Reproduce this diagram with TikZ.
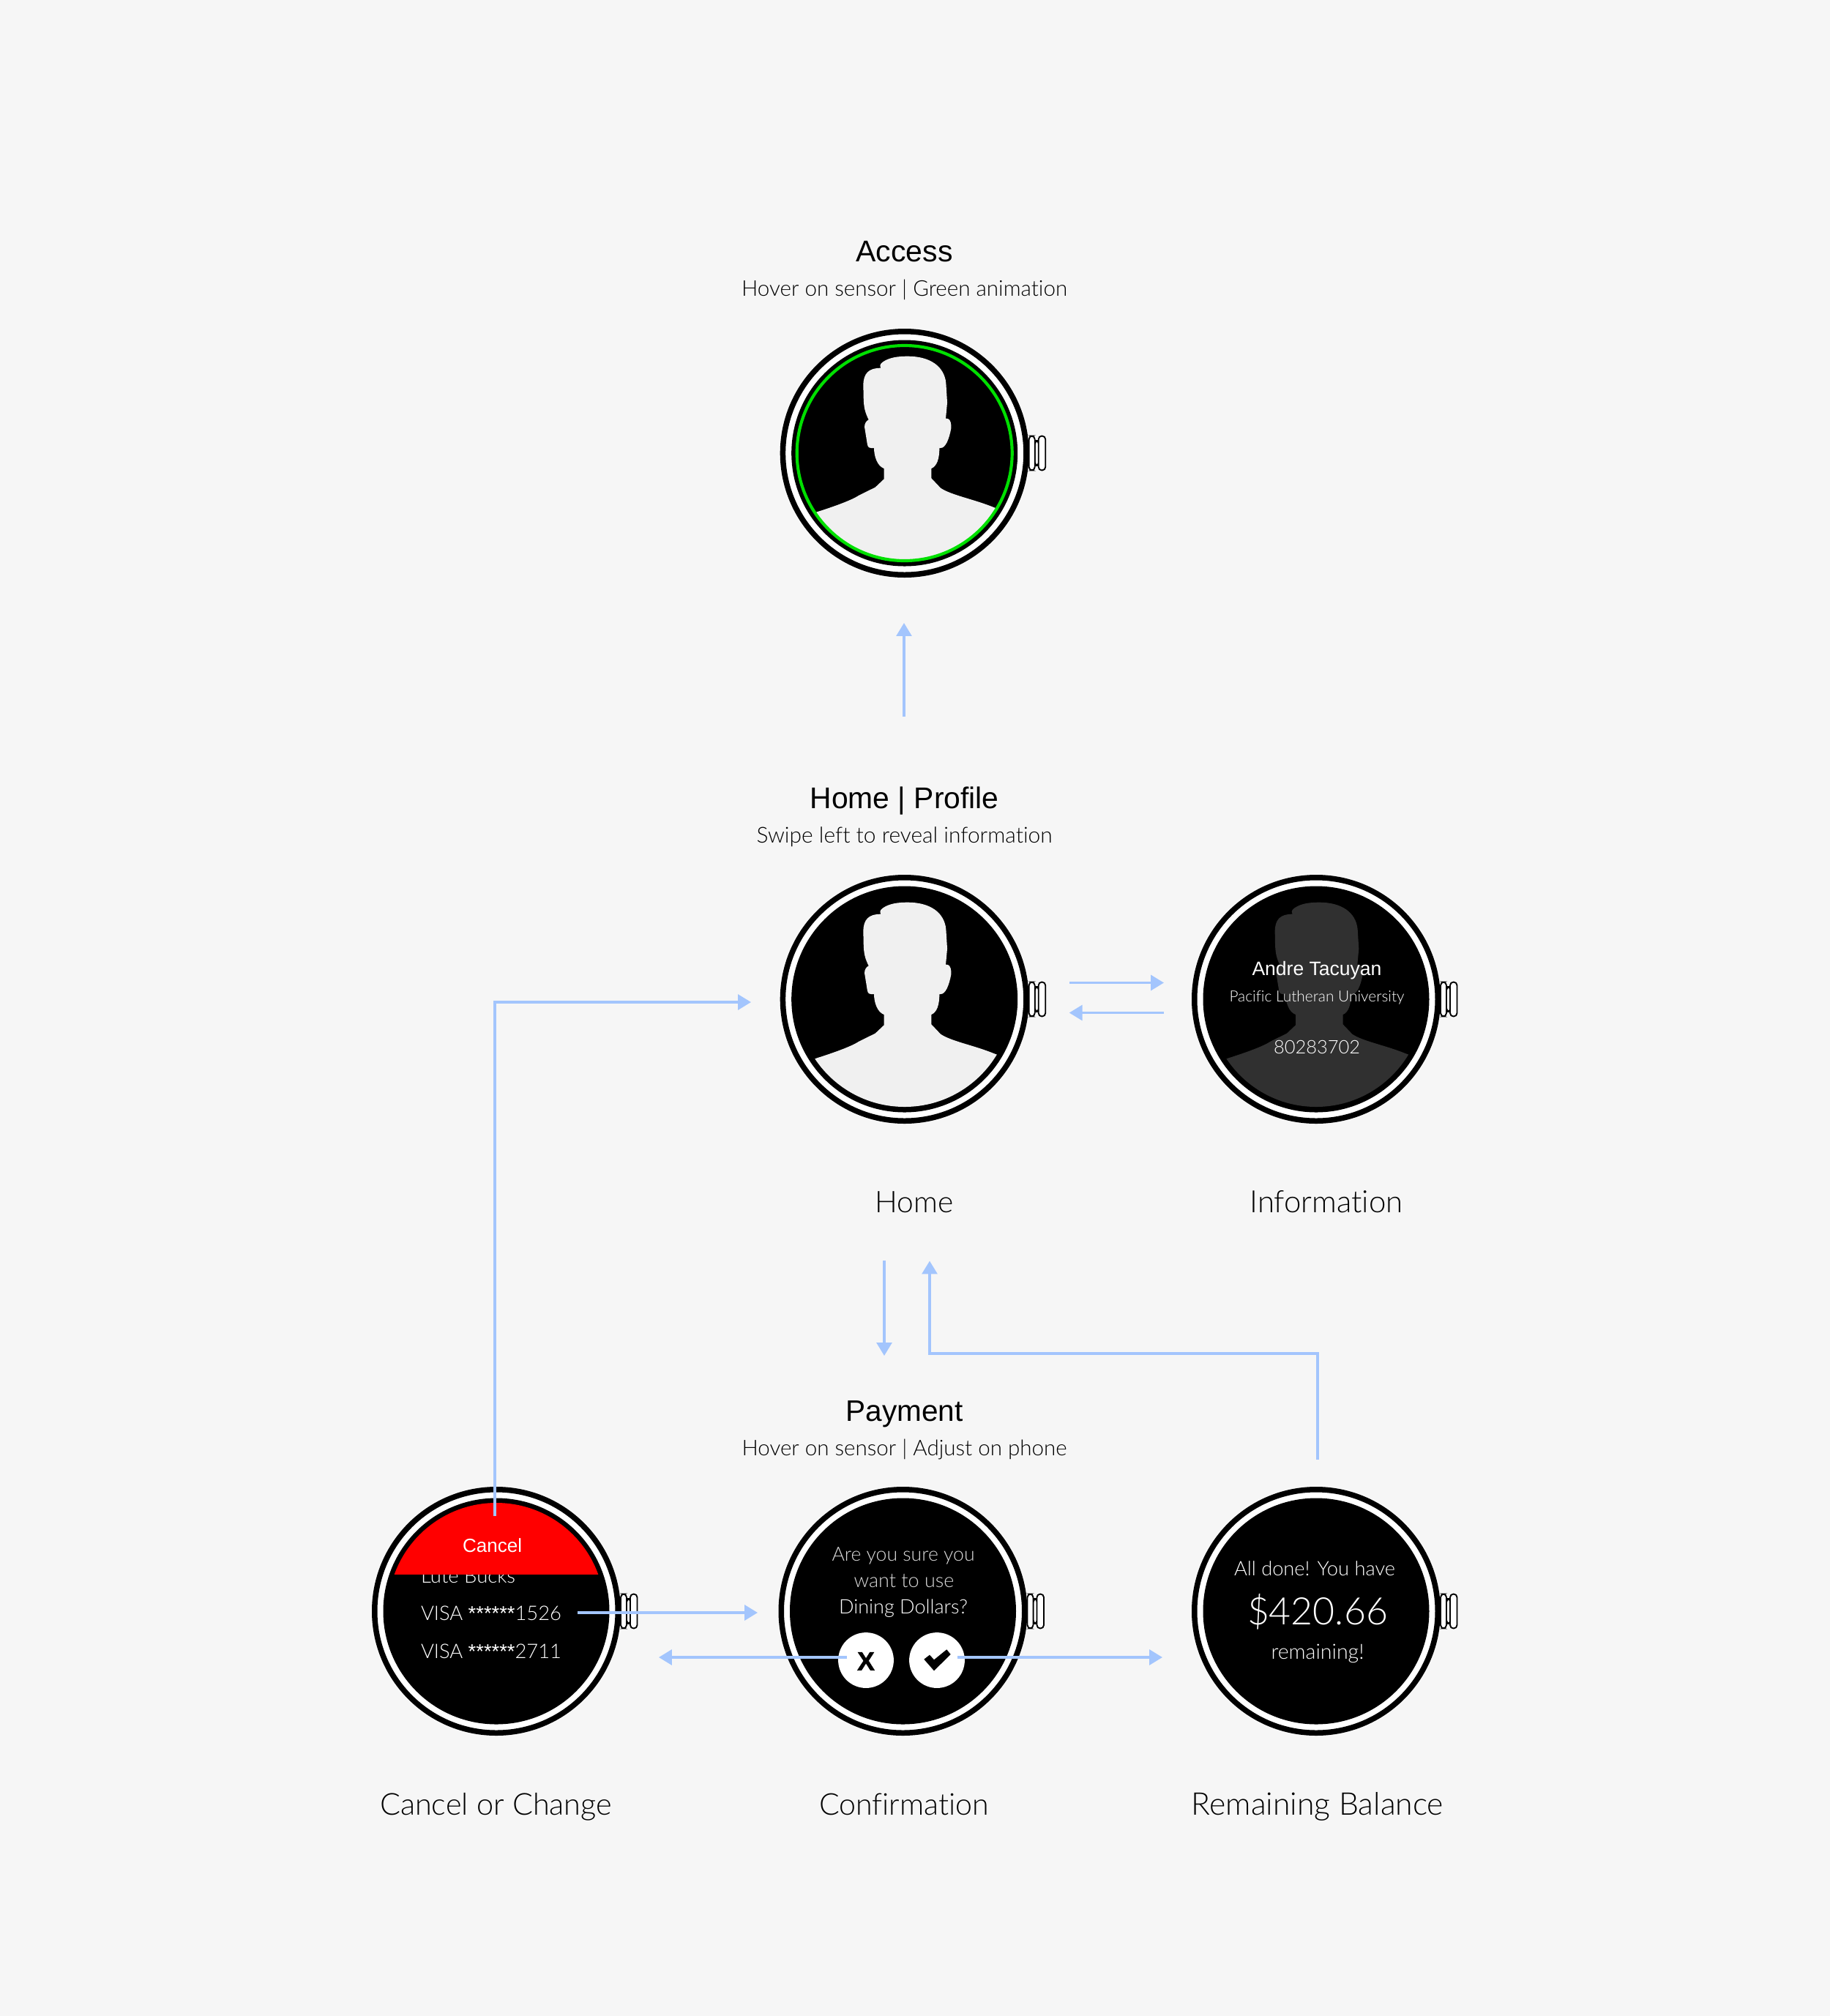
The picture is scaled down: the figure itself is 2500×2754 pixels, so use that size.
\documentclass[tikz,border=0pt]{standalone}
\usepackage{fontspec}
\usepackage{graphicx}
\usetikzlibrary{arrows.meta}
\setmainfont{Liberation Sans}
\newfontfamily\lightf[Ligatures=NoCommon]{Lato Light}
\newfontfamily\heavyf[UprightFont=* Bold,FakeBold=1.5]{Liberation Sans}
\definecolor{bgc}{HTML}{F6F6F6}
\definecolor{arrowc}{HTML}{A3C5FD}
\definecolor{greenr}{HTML}{00E000}
\definecolor{silhlight}{HTML}{F0F0F0}
\definecolor{silhdark}{HTML}{303030}
\definecolor{redc}{HTML}{FF0000}
% fit text to a width given in reference pixels
\newcommand\tw[2]{\resizebox{0.24\dimexpr #1pt\relax}{!}{#2}}
\newcommand\stars{{\normalfont ******}}
\tikzset{
  watchbody/.style={circle,inner sep=0pt,minimum size=79.8pt,draw=black,fill=white,line width=1.8pt},
  crownpart/.style={draw=black,fill=white,line width=0.45pt,rounded corners=1.1pt},
  conn/.style={draw=arrowc,line width=0.84pt,-{Triangle[length=4.3pt,width=5pt]}},
  connthin/.style={draw=arrowc,line width=0.75pt,-{Triangle[length=4.3pt,width=5pt]}},
  txt/.style={anchor=base,inner sep=0pt,outer sep=0pt,font=\fontsize{9.6}{11}\selectfont},
  blacktxt/.style={txt,text=black},
  lighttxt/.style={txt,text=black,font=\fontsize{9.6}{11}\lightf},
  screentxt/.style={txt,text=white,font=\fontsize{6.5}{8}\lightf},
  screenreg/.style={txt,text=white,font=\fontsize{6.5}{8}\selectfont},
}
\newcommand\watch[3]{%
  \node[watchbody] (#1) at (#2,#3) {};
  \begin{scope}[shift={(#2,#3)}]
    \fill[black] (0,0) circle [radius=154.5];
    \draw[crownpart] (178,-17) rectangle (183.5,17);
    \draw[crownpart] (170,-23.5) rectangle (178,23.5);
    \draw[crownpart] (183,-23.5) rectangle (192.5,23.5);
  \end{scope}
}
\newcommand\silh[3]{%
  \begin{scope}[shift={(#1,#2)}]
    \clip (0,0) circle [radius=147];
    \begin{scope}[x=0.08pt,y=-0.08pt,shift={(-617,-597)}]
    \fill[#3] (200,860) -- (258,838) .. controls (330,815) and (400,790) .. (430,770)
      -- (497,737) -- (533,703) -- (533,660)
      .. controls (505,650) and (492,610) .. (492,576) -- (480,576)
      .. controls (465,576) and (465,565) .. (462,545) -- (453,490)
      .. controls (453,475) and (460,465) .. (470,460)
      .. controls (455,430) and (450,410) .. (449,370) -- (448,320)
      .. controls (448,270) and (470,248) .. (520,248)
      .. controls (512,235) and (522,228) .. (530,222)
      .. controls (555,205) and (590,200) .. (630,200)
      .. controls (720,200) and (780,240) .. (787,310) -- (792,390) -- (786,455) -- (795,456)
      .. controls (805,458) and (810,480) .. (808,495)
      .. controls (800,540) and (785,576) .. (765,576) -- (760,576)
      .. controls (760,620) and (750,650) .. (727,660) -- (727,700) -- (765,740)
      .. controls (810,770) and (900,785) .. (985,820) -- (1040,840) -- (1040,1100) -- (200,1100) -- cycle;
    \end{scope}
  \end{scope}
}
\begin{document}
\begin{tikzpicture}[x=0.24pt,y=-0.24pt]
\useasboundingbox (0,0) rectangle (2500,2754);
\fill[bgc] (0,0) rectangle (2500,2754);

% Watches
\watch{wAccess}{1235.7}{619}
\silh{1235.7}{619}{silhlight}
\draw[greenr,line width=1pt] (1235.7,619) circle [radius=147];

\watch{wHome}{1235.7}{1365}
\silh{1235.7}{1365}{silhlight}

\watch{wInfo}{1798}{1365}
\silh{1798}{1365}{silhdark}

\watch{wCancel}{678}{2201}
\node[screentxt,anchor=base west] (lute) at (575,2162) {\tw{129}{Lute Bucks}};
\begin{scope}
  \clip (678,2201) circle [radius=148];
  \fill[redc] (500,2040) rectangle (860,2150.7);
\end{scope}
\node[screenreg] (cancel) at (672.7,2120) {\tw{81}{Cancel}};
\node[screentxt,anchor=base west] (visaA) at (575,2213.5) {\tw{192}{VISA \stars1526}};
\node[screentxt,anchor=base west] (visaB) at (575,2265) {\tw{192}{VISA \stars2711}};

\watch{wConfirm}{1233.5}{2201}
\node[screentxt,text=white!85!black] (sure) at (1234,2132) {\tw{195}{Are you sure you}};
\node[screentxt,text=white!85!black] (want) at (1235,2168) {\tw{137}{want to use}};
\node[screentxt] (dining) at (1234,2204) {\tw{176}{Dining Dollars?}};
\node[circle,fill=white,inner sep=0pt,minimum size=18.2pt] (btnX) at (1183,2268) {};
\node[circle,fill=white,inner sep=0pt,minimum size=18.2pt] (btnC) at (1280,2268) {};
\node[txt,text=black,font=\fontsize{8.6}{10}\heavyf] (xglyph) at (1183,2281.7) {X};
\fill[black] (1262.3,2266.7) -- (1270,2260.7) -- (1276,2267.3) -- (1293.3,2253.3) -- (1298.7,2260) -- (1276,2282.3) -- cycle;

\watch{wBalance}{1798}{2201}
\node[screentxt] (done) at (1796,2152) {\tw{220}{All done! You have}};
\node[screentxt,font=\fontsize{12.7}{15}\lightf] (amount) at (1800,2219) {\tw{192}{\$420.66}};
\node[screentxt] (remain) at (1800,2266) {\tw{127}{remaining!}};

% Info screen text
\node[screenreg] (name) at (1799,1332.5) {\tw{177}{Andre Tacuyan}};
\node[screentxt] (uni) at (1799,1368) {\tw{239}{Pacific Lutheran University}};
\node[screentxt] (idn) at (1799,1439) {\tw{118}{80283702}};

% Titles
\node[blacktxt] (tAccess) at (1235.6,357) {\tw{132}{Access}};
\node[lighttxt] (sAccess) at (1235.6,404) {\tw{445}{Hover on sensor | Green animation}};
\node[blacktxt] (tHome) at (1235.6,1104) {\tw{258}{Home | Profile}};
\node[lighttxt] (sHome) at (1235.6,1151) {\tw{404}{Swipe left to reveal information}};
\node[blacktxt] (tPay) at (1235.6,1941) {\tw{160}{Payment}};
\node[lighttxt] (sPay) at (1235.6,1988.5) {\tw{444}{Hover on sensor | Adjust on phone}};

% Labels
\node[lighttxt] (lHome) at (1249,1656) {\tw{107}{Home}};
\node[lighttxt] (lInfo) at (1812,1656) {\tw{209}{Information}};
\node[lighttxt] (lCancel) at (677.6,2479) {\tw{317}{Cancel or Change}};
\node[lighttxt] (lConf) at (1235,2479) {\tw{232}{Confirmation}};
\node[lighttxt] (lRem) at (1800,2479) {\tw{344}{Remaining Balance}};

% Connector ends
\coordinate (a1) at (1235,979);  \coordinate (a2) at (1235,851);
\coordinate (b1) at (1460.7,1342.5); \coordinate (b2) at (1590,1342.5);
\coordinate (c1) at (1590,1383.5); \coordinate (c2) at (1460.7,1383.5);
\coordinate (d1) at (676,2070.7); \coordinate (d2) at (676,1369); \coordinate (d3) at (1026,1369);
\coordinate (e1) at (1208,1722); \coordinate (e2) at (1208,1852);
\coordinate (f1) at (1800,1994); \coordinate (f2) at (1800,1849); \coordinate (f3) at (1270,1849); \coordinate (f4) at (1270,1722.5);
\coordinate (g1) at (789,2203); \coordinate (g2) at (1035,2203);
\coordinate (h1) at (1157,2264); \coordinate (h2) at (900,2264);
\coordinate (i1) at (1308,2264); \coordinate (i2) at (1588,2264);

\draw[connthin] (a1) -- (a2);
\draw[conn] (b1) -- (b2);
\draw[conn] (c1) -- (c2);
\draw[conn] (d1) -- (d2) -- (d3);
\draw[connthin] (e1) -- (e2);
\draw[conn] (f1) -- (f2) -- (f3) -- (f4);
\draw[conn] (g1) -- (g2);
\draw[conn] (h1) -- (h2);
\draw[conn] (i1) -- (i2);
\end{tikzpicture}
\end{document}
